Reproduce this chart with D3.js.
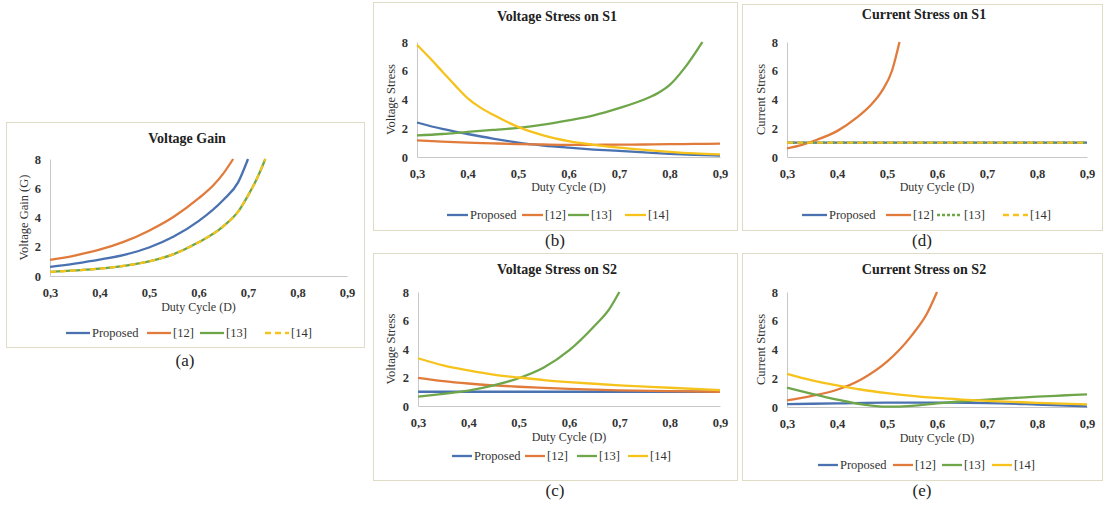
<!DOCTYPE html>
<html>
<head>
<meta charset="utf-8">
<script src="https://cdn.jsdelivr.net/npm/d3@7"></script>
<style>
  body { margin: 0; background: #fff; }
  svg { display: block; font-family: "Liberation Serif", "Times New Roman", serif; }
</style>
</head>
<body>
<script>
// ---- data (duty cycle D, value) ----
const seriesNames = ["Proposed", "[12]", "[13]", "[14]"];
const xTicks = [0.3, 0.4, 0.5, 0.6, 0.7, 0.8, 0.9];
const yTicks = [0, 2, 4, 6, 8];

// (a) Voltage Gain
const gainProposed = [[0.30,0.62],[0.35,0.85],[0.40,1.12],[0.45,1.45],[0.50,1.95],[0.55,2.7],[0.60,3.75],[0.65,5.2],[0.68,6.4],[0.70,8.0]];
const gain12 = [[0.30,1.1],[0.35,1.4],[0.40,1.8],[0.45,2.35],[0.50,3.1],[0.55,4.05],[0.60,5.3],[0.63,6.2],[0.65,7.0],[0.67,8.0]];
const gain13 = [[0.30,0.28],[0.35,0.38],[0.40,0.5],[0.45,0.7],[0.50,1.0],[0.55,1.5],[0.60,2.3],[0.65,3.4],[0.68,4.4],[0.70,5.5],[0.72,6.8],[0.735,8.0]];
const gain14 = [[0.30,0.28],[0.35,0.38],[0.40,0.5],[0.45,0.7],[0.50,1.0],[0.55,1.5],[0.60,2.3],[0.65,3.4],[0.68,4.4],[0.70,5.5],[0.72,6.8],[0.735,8.0]];

// (b) Voltage Stress on S1
const vs1Proposed = [[0.3,2.4],[0.35,1.95],[0.4,1.6],[0.45,1.28],[0.5,1.0],[0.55,0.8],[0.6,0.65],[0.65,0.52],[0.7,0.42],[0.75,0.32],[0.8,0.22],[0.85,0.15],[0.9,0.1]];
const vs1_12 = [[0.3,1.15],[0.35,1.07],[0.4,1.0],[0.45,0.95],[0.5,0.9],[0.55,0.87],[0.6,0.85],[0.65,0.85],[0.7,0.86],[0.75,0.87],[0.8,0.89],[0.85,0.91],[0.9,0.93]];
const vs1_13 = [[0.3,1.5],[0.35,1.6],[0.4,1.75],[0.45,1.88],[0.5,2.03],[0.55,2.25],[0.6,2.55],[0.65,2.9],[0.7,3.4],[0.75,4.0],[0.78,4.5],[0.8,5.0],[0.83,6.2],[0.865,8.0]];
const vs1_14 = [[0.3,7.8],[0.325,6.9],[0.35,5.95],[0.375,5.0],[0.4,4.1],[0.425,3.45],[0.45,2.95],[0.5,2.1],[0.55,1.5],[0.6,1.1],[0.65,0.85],[0.7,0.65],[0.75,0.5],[0.8,0.36],[0.85,0.25],[0.9,0.18]];

// (c) Voltage Stress on S2
const vs2Proposed = [[0.3,1.0],[0.9,1.0]];
const vs2_12 = [[0.3,1.98],[0.35,1.75],[0.4,1.58],[0.45,1.45],[0.5,1.35],[0.55,1.27],[0.6,1.2],[0.7,1.1],[0.8,1.04],[0.9,1.0]];
const vs2_13 = [[0.3,0.65],[0.35,0.85],[0.4,1.08],[0.45,1.45],[0.5,1.95],[0.55,2.7],[0.6,3.9],[0.65,5.6],[0.68,6.8],[0.7,8.0]];
const vs2_14 = [[0.3,3.35],[0.35,2.85],[0.4,2.5],[0.45,2.2],[0.5,2.0],[0.55,1.82],[0.6,1.68],[0.65,1.56],[0.7,1.45],[0.8,1.28],[0.9,1.12]];

// (d) Current Stress on S1
const cs1Proposed = [[0.3,1.0],[0.9,1.0]];
const cs1_12 = [[0.3,0.6],[0.33,0.85],[0.36,1.2],[0.4,1.8],[0.44,2.75],[0.47,3.7],[0.49,4.6],[0.51,6.0],[0.525,8.0]];
const cs1_13 = [[0.3,1.0],[0.9,1.0]];
const cs1_14 = [[0.3,1.0],[0.9,1.0]];

// (e) Current Stress on S2
const cs2Proposed = [[0.3,0.2],[0.4,0.25],[0.5,0.3],[0.6,0.3],[0.7,0.27],[0.8,0.17],[0.9,0.05]];
const cs2_12 = [[0.3,0.46],[0.35,0.78],[0.4,1.2],[0.45,1.95],[0.5,3.15],[0.55,5.0],[0.58,6.5],[0.6,8.0]];
const cs2_13 = [[0.3,1.35],[0.35,0.92],[0.4,0.52],[0.45,0.18],[0.5,0.02],[0.55,0.08],[0.6,0.25],[0.65,0.4],[0.7,0.52],[0.75,0.62],[0.8,0.72],[0.85,0.8],[0.9,0.88]];
const cs2_14 = [[0.3,2.3],[0.35,1.85],[0.4,1.5],[0.45,1.2],[0.5,0.97],[0.55,0.78],[0.6,0.63],[0.65,0.52],[0.7,0.43],[0.75,0.36],[0.8,0.29],[0.85,0.23],[0.9,0.18]];

// ---- styling / layout ----
const colors = ["#4a72b0", "#e07b3c", "#6fa64a", "#f6c21c"];
const fmt = v => d3.format(".1f")(v).replace(".", ",");

const panels = [
  { label: "(a)", title: "Voltage Gain", ylab: "Voltage Gain (G)",
    series: [gainProposed, gain12, gain13, gain14], dash: [null, null, null, "6,4"],
    box: [6, 122, 358, 225], plot: [50, 159, 347, 276],
    titleY: 143, xlabY: 311, legendY: 333, legendX: [66, 147, 200, 265], legLen: 24, labelY: 366, ylabX: 28 },
  { label: "(b)", title: "Voltage Stress on S1", ylab: "Voltage Stress",
    series: [vs1Proposed, vs1_12, vs1_13, vs1_14], dash: [null, null, null, null],
    box: [373, 2, 364, 228], plot: [417, 42, 720, 157],
    titleY: 21, xlabY: 191, legendY: 215, legendX: [447, 522, 568, 625], legLen: 21, labelY: 246, ylabX: 395 },
  { label: "(c)", title: "Voltage Stress on S2", ylab: "Voltage Stress",
    series: [vs2Proposed, vs2_12, vs2_13, vs2_14], dash: [null, null, null, null],
    box: [373, 253, 364, 227], plot: [418, 292, 720, 406],
    titleY: 274, xlabY: 441, legendY: 456, legendX: [452, 525, 577, 628], legLen: 20, labelY: 496, ylabX: 395 },
  { label: "(d)", title: "Current Stress on S1", ylab: "Current Stress",
    series: [cs1Proposed, cs1_12, cs1_13, cs1_14], dash: [null, null, "3,2", "6,4"],
    box: [742, 4, 360, 226], plot: [787, 42, 1087, 157],
    titleY: 19, xlabY: 191, legendY: 215, legendX: [802, 886, 937, 1003], legLen: 25, labelY: 246, ylabX: 765 },
  { label: "(e)", title: "Current Stress on S2", ylab: "Current Stress",
    series: [cs2Proposed, cs2_12, cs2_13, cs2_14], dash: [null, null, null, null],
    box: [742, 253, 360, 227], plot: [787, 292, 1087, 407],
    titleY: 274, xlabY: 442, legendY: 465, legendX: [818, 893, 942, 992], legLen: 20, labelY: 496, ylabX: 765 }
];

const svg = d3.select("body").append("svg")
    .attr("width", 1104)
    .attr("height", 506);

panels.forEach(p => {
  const g = svg.append("g");
  const [bx, by, bw, bh] = p.box;
  const [x0, y1, x1, y0] = p.plot;

  g.append("rect")
      .attr("x", bx + 0.5).attr("y", by + 0.5)
      .attr("width", bw).attr("height", bh)
      .attr("fill", "#fff")
      .attr("stroke", "#dedcc4");

  const x = d3.scaleLinear().domain([0.3, 0.9]).range([x0, x1]);
  const y = d3.scaleLinear().domain([0, 8]).range([y0, y1]);

  // axes
  const xAxis = g.append("g")
      .attr("transform", `translate(0,${y0})`)
      .call(d3.axisBottom(x).tickValues(xTicks).tickFormat(fmt).tickSize(0).tickPadding(12));
  const yAxis = g.append("g")
      .attr("transform", `translate(${x0},0)`)
      .call(d3.axisLeft(y).tickValues(yTicks).tickSize(0).tickPadding(9));
  [xAxis, yAxis].forEach(a => {
    a.attr("font-family", null);
    a.select(".domain").attr("stroke", "#c8c8c8");
    a.selectAll("text")
        .attr("font-size", 12.5)
        .attr("font-weight", "bold")
        .attr("fill", "#333");
  });

  // title + axis titles
  g.append("text")
      .attr("x", bx + bw / 2 + 2).attr("y", p.titleY)
      .attr("text-anchor", "middle")
      .attr("font-size", 14).attr("font-weight", "bold").attr("fill", "#222")
      .text(p.title);
  g.append("text")
      .attr("x", (x0 + x1) / 2).attr("y", p.xlabY)
      .attr("text-anchor", "middle")
      .attr("font-size", 12).attr("fill", "#333")
      .text("Duty Cycle (D)");
  g.append("text")
      .attr("transform", `translate(${p.ylabX},${(y0 + y1) / 2}) rotate(-90)`)
      .attr("text-anchor", "middle")
      .attr("font-size", 12.5).attr("fill", "#333")
      .text(p.ylab);

  // lines
  const line = d3.line()
      .x(d => x(d[0]))
      .y(d => y(d[1]))
      .curve(d3.curveMonotoneX);

  p.series.forEach((s, i) => {
    g.append("path")
        .datum(s)
        .attr("fill", "none")
        .attr("stroke", colors[i])
        .attr("stroke-width", 2.3)
        .attr("stroke-dasharray", p.dash[i])
        .attr("d", line);
  });

  // legend
  seriesNames.forEach((name, i) => {
    const lx = p.legendX[i];
    g.append("line")
        .attr("x1", lx).attr("x2", lx + p.legLen)
        .attr("y1", p.legendY).attr("y2", p.legendY)
        .attr("stroke", colors[i])
        .attr("stroke-width", 2.3)
        .attr("stroke-dasharray", p.dash[i]);
    g.append("text")
        .attr("x", lx + p.legLen + 2).attr("y", p.legendY + 4)
        .attr("font-size", 12.5).attr("fill", "#333")
        .text(name);
  });

  // panel label
  svg.append("text")
      .attr("x", bx + bw / 2).attr("y", p.labelY)
      .attr("text-anchor", "middle")
      .attr("font-size", 17).attr("fill", "#222")
      .text(p.label);
});
</script>
</body>
</html>
